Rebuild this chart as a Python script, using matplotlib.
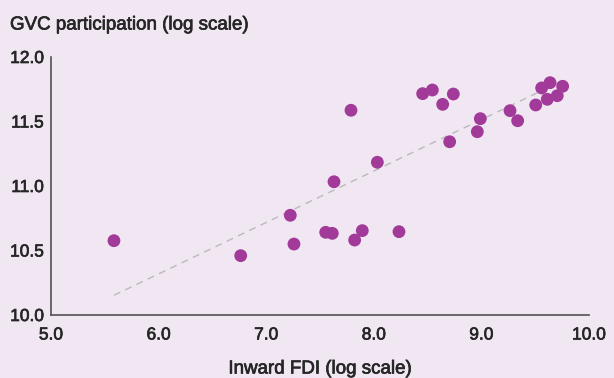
import numpy as np
import matplotlib
matplotlib.use("Agg")
import matplotlib.pyplot as plt
import matplotlib.patheffects as pe

fdi = [5.585, 6.763, 7.224, 7.258, 7.553, 7.614, 7.630, 7.822, 7.893, 8.234,
       7.788, 8.033, 8.454, 8.544, 8.640, 8.739, 8.705, 8.962, 8.990, 9.266,
       9.337, 9.505, 9.560, 9.638, 9.612, 9.705, 9.755]
gvc = [10.576, 10.460, 10.773, 10.550, 10.641, 10.633, 11.033, 10.581, 10.654, 10.646,
       11.587, 11.184, 11.716, 11.744, 11.633, 11.713, 11.343, 11.421, 11.522, 11.584,
       11.506, 11.628, 11.760, 11.801, 11.672, 11.700, 11.773]
trend_x = [5.585, 9.755]
trend_y = [10.153, 11.816]
xticks = [5.0, 6.0, 7.0, 8.0, 9.0, 10.0]
yticks = [10.0, 10.5, 11.0, 11.5, 12.0]

bg = "#f1e7f3"
txt = "#262626"
plt.rcParams['font.family'] = ['Liberation Sans', 'DejaVu Sans']
bold = [pe.withStroke(linewidth=0.5, foreground=txt)]

fig = plt.figure(figsize=(6.14, 3.78), dpi=100, facecolor=bg)
ax = fig.add_axes([51/614, 1 - 315/378, (589-51)/614, (315-57)/378])
ax.set_facecolor(bg)

ax.plot(trend_x, trend_y, color="#bdb8bd", lw=1, ls=(0, (5, 4)), zorder=1)
ax.scatter(fdi, gvc, s=85, color="#a13a98", edgecolors="none", zorder=2)

ax.set_xlim(5.0, 10.0)
ax.set_ylim(10.0, 12.0)
ax.set_xticks(xticks)
ax.set_yticks(yticks)
ax.set_xticklabels([f"{v:.1f}" for v in xticks])
ax.set_yticklabels([f"{v:.1f}" for v in yticks])
ax.tick_params(length=0, labelsize=12.5, colors=txt)
ax.tick_params(axis='y', pad=5)
ax.tick_params(axis='x', pad=9)
for lab in ax.get_xticklabels() + ax.get_yticklabels():
    lab.set_path_effects(bold)
for s in ["top", "right"]:
    ax.spines[s].set_visible(False)
for s in ["left", "bottom"]:
    ax.spines[s].set_color("#555055")
    ax.spines[s].set_linewidth(1.2)

fig.text(10/614, 1 - 25/378, "GVC participation (log scale)", fontsize=13.5,
         color=txt, ha="left", va="center", path_effects=bold)
fig.text(320/614, 1 - 369/378, "Inward FDI (log scale)", fontsize=13.5,
         color=txt, ha="center", va="center", path_effects=bold)

fig.savefig("out.png", dpi=100, facecolor=bg)
